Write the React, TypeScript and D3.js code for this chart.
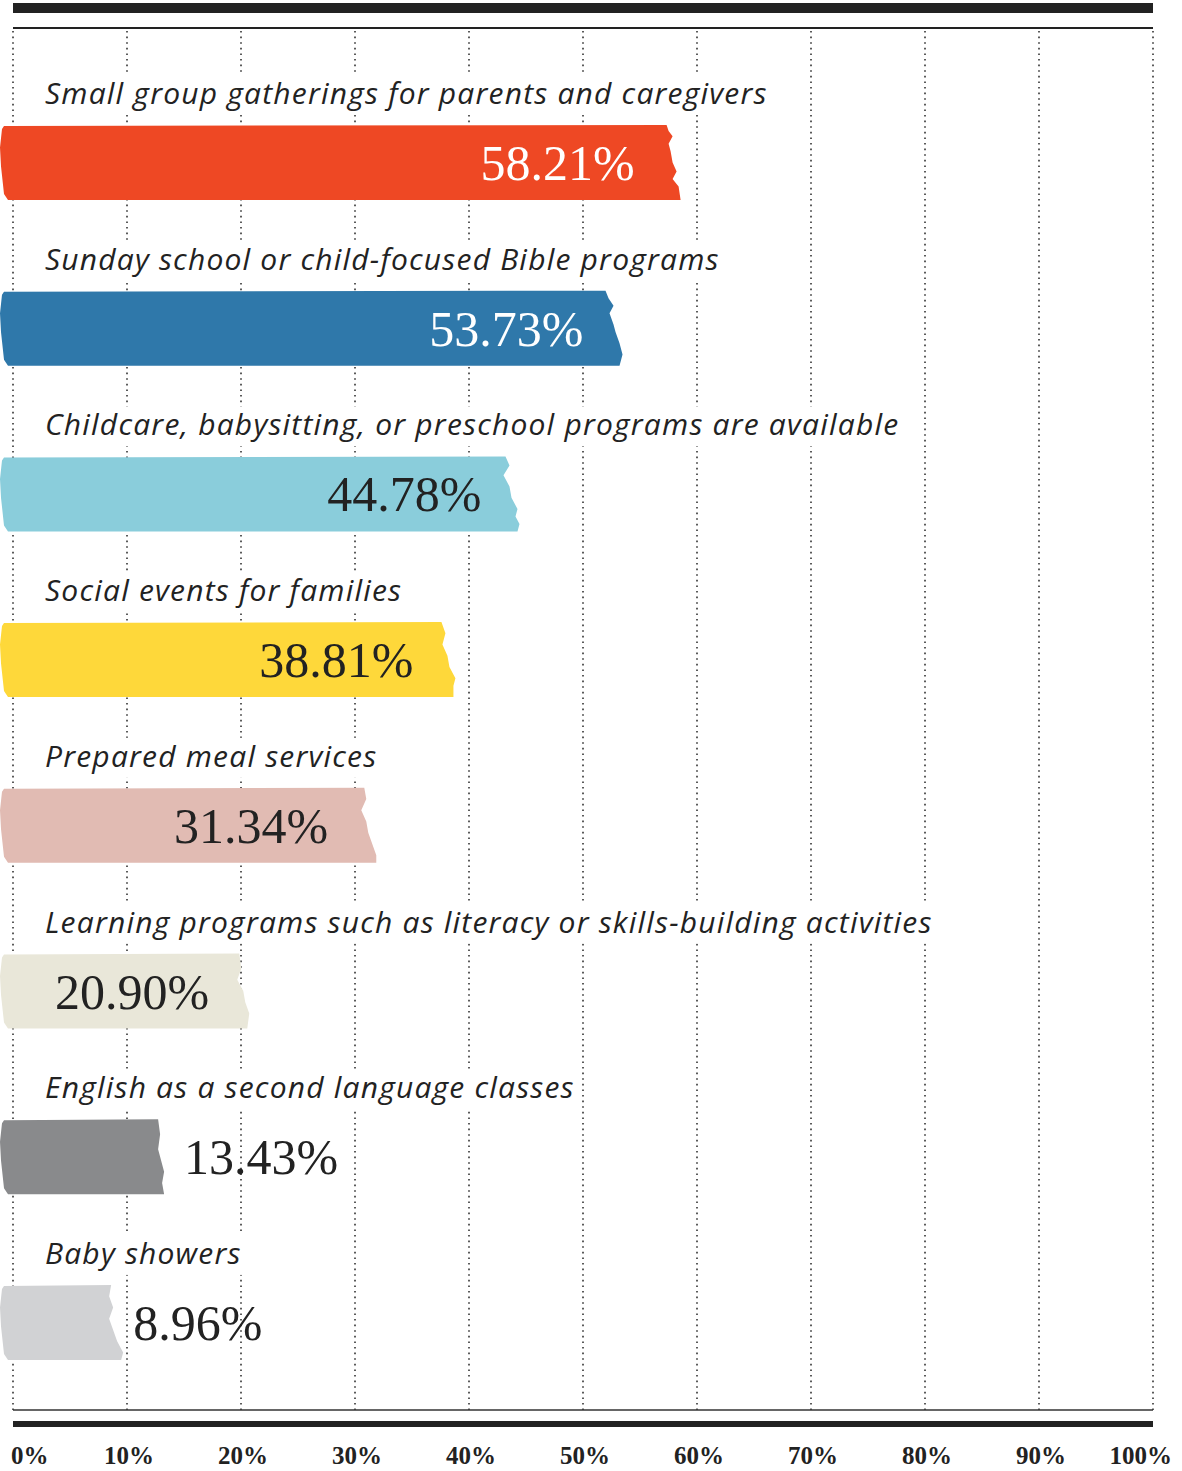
import React, { useEffect, useRef } from "react";
import * as d3 from "d3";

const categories = [
  "Small group gatherings for parents and caregivers",
  "Sunday school or child-focused Bible programs",
  "Childcare, babysitting, or preschool programs are available",
  "Social events for families",
  "Prepared meal services",
  "Learning programs such as literacy or skills-building activities",
  "English as a second language classes",
  "Baby showers",
];
const values = [58.21, 53.73, 44.78, 38.81, 31.34, 20.9, 13.43, 8.96];
const barColors = ["#ee4824", "#2f78aa", "#8acddb", "#fed83a", "#e1bbb3", "#e9e7d9", "#898a8c", "#d1d2d4"];
const valueColors = ["#ffffff", "#ffffff", "#222222", "#222222", "#222222", "#222222", "#222222", "#222222"];
const ticks = [0, 10, 20, 30, 40, 50, 60, 70, 80, 90, 100];

// torn right edge: [fraction of bar height, x offset]
const tornEdges = [
  [[0, -10], [0.08, -8], [0.15, -4], [0.25, -8], [0.35, -6], [0.5, -4], [0.62, 0], [0.72, -4], [0.82, 2], [1, 4]],
  [[0, -20], [0.1, -17], [0.2, -12], [0.3, -16], [0.45, -12], [0.55, -10], [0.7, -6], [0.85, -3], [1, -6]],
  [[0, -18], [0.12, -14], [0.25, -20], [0.4, -14], [0.55, -12], [0.7, -6], [0.8, -8], [0.9, -4], [1, -6]],
  [[0, -14], [0.15, -10], [0.3, -13], [0.45, -8], [0.6, -6], [0.75, 0], [0.85, -2], [1, -2]],
  [[0, -6], [0.15, -4], [0.3, -9], [0.45, -4], [0.6, -2], [0.75, 2], [0.9, 6], [1, 6]],
  [[0, -12], [0.2, -10], [0.35, -14], [0.5, -8], [0.65, -6], [0.8, -2], [1, -4]],
  [[0, -8], [0.2, -6], [0.4, -8], [0.55, -5], [0.7, -2], [0.85, -4], [1, -2]],
  [[0, -4], [0.15, -6], [0.3, -2], [0.45, -6], [0.6, -2], [0.75, 2], [0.9, 8], [1, 6]],
];

const W = 1182;
const H = 1471;

export default function App() {
  const svgRef = useRef<SVGSVGElement | null>(null);

  useEffect(() => {
    const svg = d3.select(svgRef.current);
    svg.selectAll("*").remove();

    const x = d3.scaleLinear().domain([0, 100]).range([13, 1153]);
    const y = d3.scaleBand().domain(categories).range([62, 62 + 165.7 * categories.length]);
    const barH = 75;

    // frame lines
    svg.append("rect").attr("x", 13).attr("y", 3).attr("width", 1140).attr("height", 10).attr("fill", "#222");
    svg.append("line").attr("x1", 13).attr("x2", 1153).attr("y1", 28).attr("y2", 28).attr("stroke", "#222").attr("stroke-width", 2);

    // dotted grid
    svg
      .append("g")
      .selectAll("line")
      .data(ticks)
      .join("line")
      .attr("x1", (d) => x(d))
      .attr("x2", (d) => x(d))
      .attr("y1", 31)
      .attr("y2", 1410)
      .attr("stroke", "#333")
      .attr("stroke-width", 1.6)
      .attr("stroke-dasharray", "1.6 4");

    svg.append("line").attr("x1", 13).attr("x2", 1153).attr("y1", 1410).attr("y2", 1410).attr("stroke", "#333").attr("stroke-width", 1.5);
    svg.append("rect").attr("x", 13).attr("y", 1421).attr("width", 1140).attr("height", 6).attr("fill", "#222");

    const rows = svg
      .append("g")
      .selectAll("g")
      .data(categories)
      .join("g")
      .attr("transform", (d) => `translate(0,${y(d)})`);

    // category labels with white backing
    rows.each(function (d) {
      const g = d3.select(this);
      const bg = g.append("rect").attr("fill", "#fff");
      const t = g
        .append("text")
        .attr("x", 45)
        .attr("y", 42)
        .attr("font-family", "'Open Sans', Lato, sans-serif")
        .attr("font-style", "italic")
        .attr("font-size", 30)
        .attr("letter-spacing", 1.2)
        .attr("fill", "#222")
        .text(d);
      const b = (t.node() as SVGTextElement).getBBox();
      bg.attr("x", b.x - 3).attr("y", 13).attr("width", b.width + 4).attr("height", 40);
    });

    const line = d3.line().curve(d3.curveLinear);

    rows.each(function (d, i) {
      const g = d3.select(this);
      const v = values[i];
      const x1 = x(v);
      const top = 63;
      const pts: [number, number][] = [
        [4, top + 1],
        [x1 + tornEdges[i][0][1], top],
      ];
      tornEdges[i].forEach(([f, dx]) => pts.push([x1 + dx, top + f * barH]));
      pts.push([x1 + tornEdges[i][tornEdges[i].length - 1][1] - 2, top + barH]);
      pts.push([8, top + barH]);
      pts.push([4, top + barH - 6]);
      pts.push([1, top + barH * 0.55]);
      pts.push([0, top + barH * 0.3]);
      pts.push([2, top + 4]);
      g.append("path")
        .attr("d", line(pts) + "Z")
        .attr("fill", barColors[i]);

      const inside = v > 15;
      g.append("text")
        .attr("x", inside ? x1 - 42 : x1 + 18)
        .attr("y", top + 55)
        .attr("text-anchor", inside ? "end" : "start")
        .attr("font-family", "'Liberation Serif', 'DejaVu Serif', serif")
        .attr("font-size", 50)
        .attr("fill", inside ? valueColors[i] : "#222")
        .text(`${d3.format(".2f")(v)}%`);
    });

    // tick labels
    svg
      .append("g")
      .selectAll("text")
      .data(ticks)
      .join("text")
      .attr("x", (d, i) => (i === 0 ? 11 : i === ticks.length - 1 ? 1172 : x(d) + 2))
      .attr("y", 1464)
      .attr("text-anchor", (d, i) => (i === 0 ? "start" : i === ticks.length - 1 ? "end" : "middle"))
      .attr("font-family", "'Liberation Serif', serif")
      .attr("font-weight", "bold")
      .attr("font-size", 25)
      .attr("fill", "#222")
      .text((d) => `${d}%`);
  }, []);

  return (
    <svg
      ref={svgRef}
      width={W}
      height={H}
      style={{ position: "absolute", left: 0, top: 0, background: "#fff" }}
    />
  );
}
